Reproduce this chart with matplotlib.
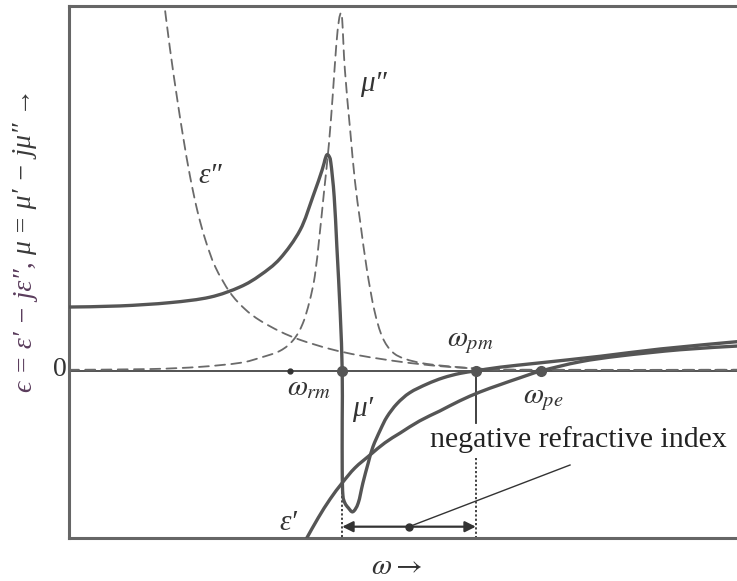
import matplotlib
matplotlib.use("Agg")
import matplotlib.pyplot as plt
from matplotlib.path import Path
from matplotlib.patches import PathPatch

plt.rcParams['mathtext.fontset'] = 'stix'
plt.rcParams['font.family'] = ['Liberation Serif', 'DejaVu Serif']

# curves (omega in arbitrary units, 0..10)
mu_re_w = [0, 0.76, 1.51, 2.11, 2.56, 2.86, 3.16, 3.46, 3.65, 3.79, 3.83, 3.86, 3.89, 3.92,
           3.97, 4.01, 4.06, 4.09, 4.09, 4.09, 4.10, 4.13, 4.18, 4.25, 4.33, 4.40, 4.48,
           4.55, 4.66, 4.76, 4.91, 5.10, 5.36, 5.60, 5.85, 6.09, 6.45, 7.05, 7.95, 8.85, 10.0]
mu_re = [1.75, 1.78, 1.87, 2.02, 2.30, 2.62, 3.08, 3.86, 4.77, 5.51, 5.78, 5.92, 5.89, 5.70,
         4.77, 3.40, 1.59, 0, -1.34, -2.71, -3.40, -3.62, -3.75, -3.86, -3.62, -3.07, -2.52,
         -2.08, -1.62, -1.26, -0.90, -0.60, -0.36, -0.19, -0.07, 0.0, 0.10, 0.22, 0.40, 0.60, 0.80]

eps_re_w = [3.50, 3.56, 3.73, 3.91, 4.09, 4.28, 4.51, 4.73, 4.96, 5.25, 5.55, 5.85, 6.15,
            6.45, 6.75, 7.07, 7.65, 8.25, 9.15, 10.0]
eps_re = [-4.77, -4.58, -4.03, -3.51, -3.07, -2.66, -2.30, -1.97, -1.70, -1.37, -1.10, -0.82,
          -0.58, -0.38, -0.19, 0, 0.25, 0.41, 0.58, 0.68]

eps_im_w = [1.41, 1.51, 1.62, 1.71, 1.81, 1.92, 2.04, 2.19, 2.41, 2.63, 2.86, 3.16, 3.46,
            3.91, 4.36, 4.96, 5.55, 6.15, 6.75, 10.0]
eps_im = [10.3, 8.85, 7.45, 6.40, 5.35, 4.40, 3.60, 2.85, 2.15, 1.70, 1.38, 1.08, 0.85,
          0.60, 0.42, 0.25, 0.13, 0.06, 0.03, 0.03]

mu_im_w = [0, 1.21, 1.96, 2.56, 2.86, 3.16, 3.36, 3.50, 3.60, 3.68, 3.75, 3.82, 3.89, 3.95,
           4.00, 4.04, 4.07, 4.09, 4.13, 4.21, 4.28, 4.36, 4.46, 4.57, 4.69, 4.84, 5.03,
           5.36, 6.00, 6.75, 10.0]
mu_im = [0.03, 0.05, 0.11, 0.22, 0.36, 0.55, 0.85, 1.30, 1.90, 2.60, 3.70, 4.95, 6.20, 7.60,
         8.90, 9.60, 9.80, 9.62, 8.25, 6.58, 5.21, 4.08, 2.77, 1.67, 0.93, 0.52, 0.33,
         0.19, 0.08, 0.03, 0.03]

w_rm = 3.31
w_mu0 = 4.09
w_pm = 6.09
w_pe = 7.07

ymin, ymax = -4.58, 10.0


def smooth_path(xs, ys):
    # Catmull-Rom through the read points, drawn as cubic bezier segments
    pts = list(zip(xs, ys))
    verts = [pts[0]]
    codes = [Path.MOVETO]
    n = len(pts)
    for i in range(n - 1):
        p0 = pts[i - 1] if i > 0 else pts[i]
        p1 = pts[i]
        p2 = pts[i + 1]
        p3 = pts[i + 2] if i + 2 < n else pts[i + 1]
        c1 = (p1[0] + (p2[0] - p0[0]) / 6, p1[1] + (p2[1] - p0[1]) / 6)
        c2 = (p2[0] - (p3[0] - p1[0]) / 6, p2[1] - (p3[1] - p1[1]) / 6)
        verts += [c1, c2, p2]
        codes += [Path.CURVE4] * 3
    return Path(verts, codes)


def draw_curve(ax, xs, ys, **kw):
    patch = PathPatch(smooth_path(xs, ys), fill=False, capstyle='round', **kw)
    ax.add_patch(patch)


fig = plt.figure(figsize=(7.37, 5.81), dpi=100)
ax = fig.add_axes([69 / 737, 1 - 538 / 581, 1 - 69 / 737, (538 - 6) / 581])
ax.set_xlim(0, 10)
ax.set_ylim(ymin, ymax)
ax.set_xticks([])
ax.set_yticks([])
for side in ['left', 'bottom', 'top']:
    ax.spines[side].set_color('#666666')
    ax.spines[side].set_linewidth(2.2)
ax.spines['right'].set_visible(False)

# zero line
ax.axhline(0, color='#444444', lw=1.3, zorder=1)

curve_col = '#555555'
dash_col = '#6a6a6a'
draw_curve(ax, eps_im_w, eps_im, edgecolor=dash_col, lw=1.3, ls=(0, (5.5, 3.5)), zorder=2)
draw_curve(ax, mu_im_w, mu_im, edgecolor=dash_col, lw=1.3, ls=(0, (5.5, 3.5)), zorder=2)
draw_curve(ax, eps_re_w, eps_re, edgecolor=curve_col, lw=2.4, zorder=3, joinstyle='round')
draw_curve(ax, mu_re_w, mu_re, edgecolor=curve_col, lw=2.4, zorder=3, joinstyle='round')

# markers on the zero line
ax.plot([w_mu0, w_pm, w_pe], [0, 0, 0], 'o', color='#555555', ms=7, zorder=4)
ax.plot([w_rm], [0], 'o', color='#333333', ms=3.5, zorder=4)

# band of negative index
ax.plot([w_pm, w_pm], [0, -1.42], color='#333333', lw=1.3)
ax.plot([w_pm, w_pm], [-2.38, ymin], color='#333333', lw=1.3, ls=(0, (1.2, 1.2)))
ax.plot([w_mu0, w_mu0], [-3.07, ymin], color='#333333', lw=1.3, ls=(0, (1.2, 1.2)))
ax.annotate('', xy=(w_mu0, -4.27), xytext=(w_pm, -4.27),
            arrowprops=dict(arrowstyle='<|-|>', color='#333333', lw=1.6,
                            mutation_scale=16, shrinkA=0, shrinkB=0))
mid = (w_mu0 + w_pm) / 2
ax.plot([mid], [-4.27], 'o', color='#333333', ms=5)
ax.plot([mid, 7.50], [-4.27, -2.58], color='#333333', lw=1.0)
ax.text(7.62, -1.89, 'negative refractive index', fontsize=21.5, ha='center', va='center',
        color='#222222')

# curve labels
lab = dict(fontsize=21, color='#333333', ha='center', va='center', style='italic')
ax.text(4.55, 7.86, "μ″", **lab)
ax.text(2.12, 5.33, "ε″", **lab)
ax.text(4.40, -1.05, "μ′", **lab)
ax.text(3.28, -4.16, "ε′", **lab)
wlab = dict(fontsize=21, color='#333333', ha='center', va='center')
ax.text(6.00, 0.77, r"$\omega_{pm}$", **wlab)
ax.text(3.60, -0.47, r"$\omega_{rm}$", **wlab)
ax.text(7.10, -0.80, r"$\omega_{pe}$", **wlab)

fig.text(397 / 737, 1 - 567 / 581, r"$\omega\rightarrow$", fontsize=21, ha='center',
         va='center', color='#333333')
fig.text(60 / 737, 1 - 370 / 581, '0', fontsize=20, ha='center', va='center', color='#333333')

# y label in two colours
t1 = fig.text(25 / 737, 1 - 392 / 581, "ϵ = ε′ − jε″,",
              fontsize=20, rotation=90, rotation_mode='anchor', ha='left', va='center',
              color='#5a3c5c', style='italic')
fig.canvas.draw()
bb = t1.get_window_extent()
fig.text(25 / 737, (bb.y1 + 6) / 581, "μ = μ′ − jμ″ →",
         fontsize=20, rotation=90, rotation_mode='anchor', ha='left', va='center',
         color='#3a3a3a', style='italic')

fig.savefig('out.png', dpi=100)
